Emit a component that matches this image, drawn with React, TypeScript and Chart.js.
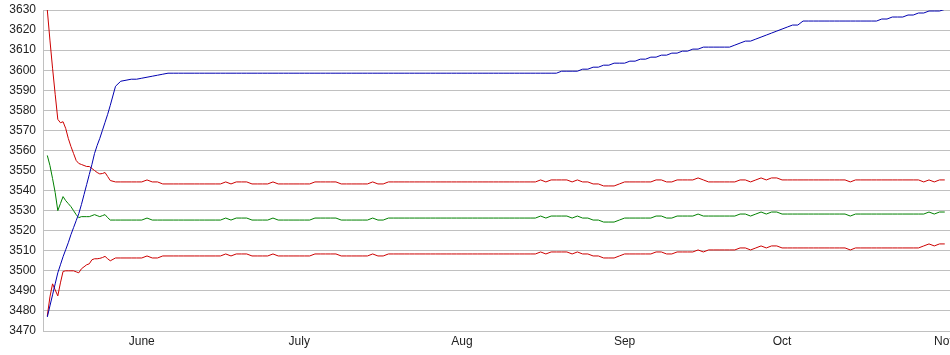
import React, { useEffect, useRef } from "react";
import { Chart, registerables } from "chart.js";

Chart.register(...registerables);

// x positions: day offsets from 14 May (half-day steps for the first 12 days)
const days: number[] = [
  0, 0.5, 1, 1.5, 2, 2.5, 3, 3.5, 4, 4.5, 5, 5.5, 6, 6.5, 7, 7.5, 8, 8.5, 9, 9.5, 10, 10.5, 11, 11.5, 12,
  13, 14, 15, 16, 17, 18, 19, 20, 21, 22,
  23, 24, 25, 26, 27, 28, 29, 30, 31, 32,
  33, 34, 35, 36, 37, 38, 39, 40, 41, 42,
  43, 44, 45, 46, 47, 48, 49, 50, 51, 52,
  53, 54, 55, 56, 57, 58, 59, 60, 61, 62,
  63, 64, 65, 66, 67, 68, 69, 70, 71, 72,
  73, 74, 75, 76, 77, 78, 79, 80, 81, 82,
  83, 84, 85, 86, 87, 88, 89, 90, 91, 92,
  93, 94, 95, 96, 97, 98, 99, 100, 101, 102,
  103, 104, 105, 106, 107, 108, 109, 110, 111, 112,
  113, 114, 115, 116, 117, 118, 119, 120, 121, 122,
  123, 124, 125, 126, 127, 128, 129, 130, 131, 132,
  133, 134, 135, 136, 137, 138, 139, 140, 141, 142,
  143, 144, 145, 146, 147, 148, 149, 150, 151, 152,
  153, 154, 155, 156, 157, 158, 159, 160, 161, 162,
  163, 164, 165, 166, 167, 168, 169, 170, 171,
];

// month tick positions (day offsets) and their labels
const monthDays: number[] = [18, 48, 79, 110, 140, 171];
const monthLabels: string[] = ["June", "July", "Aug", "Sep", "Oct", "Nov"];

const blueSeries: number[] = [
  3477, 3482.5, 3488, 3493.5, 3499, 3503, 3507, 3510.5, 3514, 3518, 3521.5, 3525, 3528.5, 3533, 3538, 3543, 3548, 3553, 3558.5, 3562.5, 3566, 3570, 3574, 3578, 3582.5,
  3592, 3594.5, 3595, 3595.5, 3595.5, 3596, 3596.5, 3597, 3597.5, 3598, // d13-22
  3598.5, 3598.5, 3598.5, 3598.5, 3598.5, 3598.5, 3598.5, 3598.5, 3598.5, 3598.5, // d23-32
  3598.5, 3598.5, 3598.5, 3598.5, 3598.5, 3598.5, 3598.5, 3598.5, 3598.5, 3598.5, // d33-42
  3598.5, 3598.5, 3598.5, 3598.5, 3598.5, 3598.5, 3598.5, 3598.5, 3598.5, 3598.5, // d43-52
  3598.5, 3598.5, 3598.5, 3598.5, 3598.5, 3598.5, 3598.5, 3598.5, 3598.5, 3598.5, // d53-62
  3598.5, 3598.5, 3598.5, 3598.5, 3598.5, 3598.5, 3598.5, 3598.5, 3598.5, 3598.5, // d63-72
  3598.5, 3598.5, 3598.5, 3598.5, 3598.5, 3598.5, 3598.5, 3598.5, 3598.5, 3598.5, // d73-82
  3598.5, 3598.5, 3598.5, 3598.5, 3598.5, 3598.5, 3598.5, 3598.5, 3598.5, 3598.5, // d83-92
  3598.5, 3598.5, 3598.5, 3598.5, 3598.5, 3599.5, 3599.5, 3599.5, 3599.5, 3600.5, // d93-102
  3600.5, 3601.5, 3601.5, 3602.5, 3602.5, 3603.5, 3603.5, 3603.5, 3604.5, 3604.5, // d103-112
  3605.5, 3605.5, 3606.5, 3606.5, 3607.5, 3607.5, 3608.5, 3608.5, 3609.5, 3609.5, // d113-122
  3610.5, 3610.5, 3611.5, 3611.5, 3611.5, 3611.5, 3611.5, 3611.5, 3612.5, 3613.5, // d123-132
  3614.5, 3614.5, 3615.5, 3616.5, 3617.5, 3618.5, 3619.5, 3620.5, 3621.5, 3622.5, // d133-142
  3622.5, 3624.5, 3624.5, 3624.5, 3624.5, 3624.5, 3624.5, 3624.5, 3624.5, 3624.5, // d143-152
  3624.5, 3624.5, 3624.5, 3624.5, 3624.5, 3624.5, 3625.5, 3625.5, 3626.5, 3626.5, // d153-162
  3626.5, 3627.5, 3627.5, 3628.5, 3628.5, 3629.5, 3629.5, 3629.5, 3630.3, // d163-171
];

const redUpperSeries: number[] = [
  3630, 3615, 3601, 3588, 3575.5, 3573.8, 3574.3, 3571, 3566, 3562, 3558.5, 3555, 3553.5, 3553, 3552.5, 3552, 3552, 3551, 3550, 3549, 3548.3, 3548.5, 3549, 3547, 3545,
  3544.3, 3544.3, 3544.3, 3544.3, 3544.3, 3544.3, 3545.3, 3544.3, 3544.3, 3543.3, // d13-22
  3543.3, 3543.3, 3543.3, 3543.3, 3543.3, 3543.3, 3543.3, 3543.3, 3543.3, 3543.3, // d23-32
  3543.3, 3544.3, 3543.3, 3544.3, 3544.3, 3544.3, 3543.3, 3543.3, 3543.3, 3543.3, // d33-42
  3544.3, 3543.3, 3543.3, 3543.3, 3543.3, 3543.3, 3543.3, 3543.3, 3544.3, 3544.3, // d43-52
  3544.3, 3544.3, 3544.3, 3543.3, 3543.3, 3543.3, 3543.3, 3543.3, 3543.3, 3544.3, // d53-62
  3543.3, 3543.3, 3544.3, 3544.3, 3544.3, 3544.3, 3544.3, 3544.3, 3544.3, 3544.3, // d63-72
  3544.3, 3544.3, 3544.3, 3544.3, 3544.3, 3544.3, 3544.3, 3544.3, 3544.3, 3544.3, // d73-82
  3544.3, 3544.3, 3544.3, 3544.3, 3544.3, 3544.3, 3544.3, 3544.3, 3544.3, 3544.3, // d83-92
  3544.3, 3545.3, 3544.3, 3545.3, 3545.3, 3545.3, 3545.3, 3544.3, 3545.3, 3544.3, // d93-102
  3544.3, 3543.3, 3543.3, 3542.3, 3542.3, 3542.3, 3543.3, 3544.3, 3544.3, 3544.3, // d103-112
  3544.3, 3544.3, 3544.3, 3545.3, 3545.3, 3544.3, 3544.3, 3545.3, 3545.3, 3545.3, // d113-122
  3545.3, 3546.3, 3545.3, 3544.3, 3544.3, 3544.3, 3544.3, 3544.3, 3544.3, 3545.3, // d123-132
  3545.3, 3544.3, 3545.3, 3546.3, 3545.3, 3546.3, 3546.3, 3545.3, 3545.3, 3545.3, // d133-142
  3545.3, 3545.3, 3545.3, 3545.3, 3545.3, 3545.3, 3545.3, 3545.3, 3545.3, 3545.3, // d143-152
  3544.3, 3545.3, 3545.3, 3545.3, 3545.3, 3545.3, 3545.3, 3545.3, 3545.3, 3545.3, // d153-162
  3545.3, 3545.3, 3545.3, 3545.3, 3544.3, 3545.3, 3544.3, 3545.3, 3545.3, // d163-171
];

const greenSeries: number[] = [
  3557.5, 3552.5, 3546, 3539, 3530, 3533.5, 3537, 3535, 3533.5, 3532, 3530, 3528, 3526.5, 3527, 3527, 3527, 3527, 3527.5, 3528, 3527.5, 3527, 3527.5, 3528, 3526.5, 3525.3,
  3525.3, 3525.3, 3525.3, 3525.3, 3525.3, 3525.3, 3526.3, 3525.3, 3525.3, 3525.3, // d13-22
  3525.3, 3525.3, 3525.3, 3525.3, 3525.3, 3525.3, 3525.3, 3525.3, 3525.3, 3525.3, // d23-32
  3525.3, 3526.3, 3525.3, 3526.3, 3526.3, 3526.3, 3525.3, 3525.3, 3525.3, 3525.3, // d33-42
  3526.3, 3525.3, 3525.3, 3525.3, 3525.3, 3525.3, 3525.3, 3525.3, 3526.3, 3526.3, // d43-52
  3526.3, 3526.3, 3526.3, 3525.3, 3525.3, 3525.3, 3525.3, 3525.3, 3525.3, 3526.3, // d53-62
  3525.3, 3525.3, 3526.3, 3526.3, 3526.3, 3526.3, 3526.3, 3526.3, 3526.3, 3526.3, // d63-72
  3526.3, 3526.3, 3526.3, 3526.3, 3526.3, 3526.3, 3526.3, 3526.3, 3526.3, 3526.3, // d73-82
  3526.3, 3526.3, 3526.3, 3526.3, 3526.3, 3526.3, 3526.3, 3526.3, 3526.3, 3526.3, // d83-92
  3526.3, 3527.3, 3526.3, 3527.3, 3527.3, 3527.3, 3527.3, 3526.3, 3527.3, 3526.3, // d93-102
  3526.3, 3525.3, 3525.3, 3524.3, 3524.3, 3524.3, 3525.3, 3526.3, 3526.3, 3526.3, // d103-112
  3526.3, 3526.3, 3526.3, 3527.3, 3527.3, 3526.3, 3526.3, 3527.3, 3527.3, 3527.3, // d113-122
  3527.3, 3528.3, 3527.3, 3527.3, 3527.3, 3527.3, 3527.3, 3527.3, 3527.3, 3528.3, // d123-132
  3528.3, 3527.3, 3528.3, 3529.3, 3528.3, 3529.3, 3529.3, 3528.3, 3528.3, 3528.3, // d133-142
  3528.3, 3528.3, 3528.3, 3528.3, 3528.3, 3528.3, 3528.3, 3528.3, 3528.3, 3528.3, // d143-152
  3527.3, 3528.3, 3528.3, 3528.3, 3528.3, 3528.3, 3528.3, 3528.3, 3528.3, 3528.3, // d153-162
  3528.3, 3528.3, 3528.3, 3528.3, 3528.3, 3529.3, 3528.3, 3529.3, 3529.3, // d163-171
];

const redLowerSeries: number[] = [
  3477.5, 3487, 3493.5, 3490.5, 3487.5, 3494, 3499.7, 3500, 3500, 3500, 3500, 3499.5, 3499, 3501, 3502, 3503, 3503.5, 3505.5, 3506, 3506, 3506.2, 3506.6, 3507.2, 3506, 3505,
  3506.4, 3506.4, 3506.4, 3506.4, 3506.4, 3506.4, 3507.4, 3506.4, 3506.4, 3507.4, // d13-22
  3507.4, 3507.4, 3507.4, 3507.4, 3507.4, 3507.4, 3507.4, 3507.4, 3507.4, 3507.4, // d23-32
  3507.4, 3508.4, 3507.4, 3508.4, 3508.4, 3508.4, 3507.4, 3507.4, 3507.4, 3507.4, // d33-42
  3508.4, 3507.4, 3507.4, 3507.4, 3507.4, 3507.4, 3507.4, 3507.4, 3508.4, 3508.4, // d43-52
  3508.4, 3508.4, 3508.4, 3507.4, 3507.4, 3507.4, 3507.4, 3507.4, 3507.4, 3508.4, // d53-62
  3507.4, 3507.4, 3508.4, 3508.4, 3508.4, 3508.4, 3508.4, 3508.4, 3508.4, 3508.4, // d63-72
  3508.4, 3508.4, 3508.4, 3508.4, 3508.4, 3508.4, 3508.4, 3508.4, 3508.4, 3508.4, // d73-82
  3508.4, 3508.4, 3508.4, 3508.4, 3508.4, 3508.4, 3508.4, 3508.4, 3508.4, 3508.4, // d83-92
  3508.4, 3509.4, 3508.4, 3509.4, 3509.4, 3509.4, 3509.4, 3508.4, 3509.4, 3508.4, // d93-102
  3508.4, 3507.4, 3507.4, 3506.4, 3506.4, 3506.4, 3507.4, 3508.4, 3508.4, 3508.4, // d103-112
  3508.4, 3508.4, 3508.4, 3509.4, 3509.4, 3508.4, 3508.4, 3509.4, 3509.4, 3509.4, // d113-122
  3509.4, 3510.4, 3509.4, 3510.4, 3510.4, 3510.4, 3510.4, 3510.4, 3510.4, 3511.4, // d123-132
  3511.4, 3510.4, 3511.4, 3512.4, 3511.4, 3512.4, 3512.4, 3511.4, 3511.4, 3511.4, // d133-142
  3511.4, 3511.4, 3511.4, 3511.4, 3511.4, 3511.4, 3511.4, 3511.4, 3511.4, 3511.4, // d143-152
  3510.4, 3511.4, 3511.4, 3511.4, 3511.4, 3511.4, 3511.4, 3511.4, 3511.4, 3511.4, // d153-162
  3511.4, 3511.4, 3511.4, 3511.4, 3512.4, 3513.4, 3512.4, 3513.4, 3513.4, // d163-171
];

const toPoints = (ys: number[]) => ys.map((y, i) => ({ x: days[i], y }));

export default function App() {
  const ref = useRef<HTMLCanvasElement>(null);

  useEffect(() => {
    document.body.style.margin = "0";
    const canvas = ref.current;
    if (!canvas) return;
    const chart = new Chart(canvas, {
      type: "line",
      data: {
        datasets: [
          { label: "blue", data: toPoints(blueSeries), borderColor: "#0000b0" },
          { label: "upper", data: toPoints(redUpperSeries), borderColor: "#cc0000" },
          { label: "mid", data: toPoints(greenSeries), borderColor: "#008000" },
          { label: "lower", data: toPoints(redLowerSeries), borderColor: "#cc0000" },
        ],
      },
      options: {
        animation: false,
        responsive: false,
        devicePixelRatio: 1,
        parsing: false as any,
        layout: { padding: { top: 10, left: 0, right: 0, bottom: 0 } },
        plugins: { legend: { display: false }, tooltip: { enabled: false } },
        elements: {
          point: { radius: 0 },
          line: { borderWidth: 1, tension: 0, fill: false },
        },
        scales: {
          x: {
            type: "linear",
            min: -0.82,
            max: 172,
            grid: { display: false, drawTicks: false },
            border: { display: true, color: "#c0c0c0" },
            afterBuildTicks: (scale: any) => {
              scale.ticks = monthDays.map((v) => ({ value: v }));
            },
            afterFit: (scale: any) => {
              scale.height = 24;
              scale.paddingLeft = 0;
              scale.paddingRight = 0;
            },
            ticks: {
              autoSkip: false,
              maxRotation: 0,
              padding: 3,
              color: "#222",
              font: { family: "'Liberation Sans', Arial, sans-serif", size: 12 },
              callback: (_v: any, i: number) => monthLabels[i],
            },
          },
          y: {
            type: "linear",
            min: 3470,
            max: 3630,
            grid: { color: "#c0c0c0", drawTicks: false },
            border: { display: true, color: "#c0c0c0" },
            afterFit: (scale: any) => {
              scale.width = 43;
              scale.paddingTop = 0;
              scale.paddingBottom = 0;
            },
            ticks: {
              stepSize: 10,
              padding: 7,
              color: "#222",
              font: { family: "'Liberation Sans', Arial, sans-serif", size: 12 },
              callback: (v: any) => String(v),
            },
          },
        },
      },
    });
    return () => chart.destroy();
  }, []);

  return (
    <div style={{ width: 950, height: 355 }}>
      <canvas ref={ref} width={950} height={355} style={{ display: "block" }} />
    </div>
  );
}
